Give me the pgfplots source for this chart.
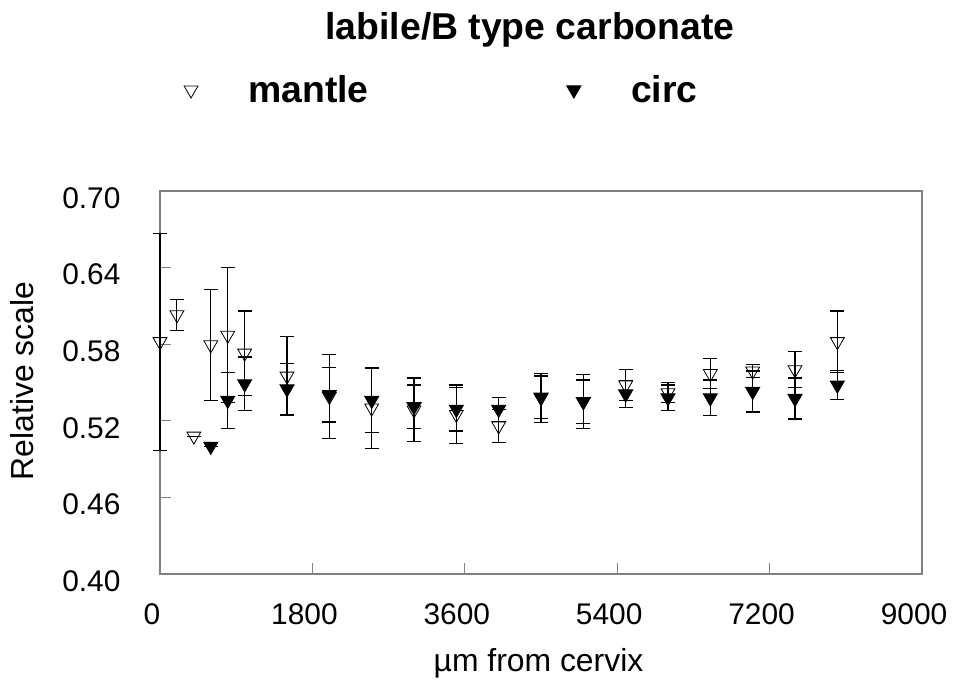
\documentclass[border=0pt]{standalone}
\usepackage{fontspec}
\setmainfont{Liberation Sans}
\usepackage{pgfplots}
\usepackage{pgfplotstable}
\pgfplotsset{compat=1.18}
\pgfplotstableread{
x y e
0 0.582 0.085
200 0.603 0.012
400 0.508 0.0
600 0.5795 0.0435
800 0.587 0.053
1000 0.573 0.033
1500 0.555 0.031
2000 0.539 0.033
2500 0.530 0.032
3000 0.5285 0.025
3500 0.525 0.023
4000 0.516 0.013
4500 0.538 0.019
5000 0.535 0.021
5500 0.548 0.012
6000 0.542 0.008
6500 0.557 0.012
7000 0.559 0.005
7500 0.560 0.014
8000 0.582 0.024
}\mantledata
\pgfplotstableread{
x y e
600 0.500 0.0
800 0.536 0.022
1000 0.549 0.021
1500 0.545 0.020
2000 0.5405 0.0215
2500 0.536 0.025
3000 0.531 0.017
3500 0.529 0.017
4000 0.529 0.0095
4500 0.5385 0.0165
5000 0.535 0.017
5500 0.541 0.0105
6000 0.538 0.010
6500 0.538 0.014
7000 0.543 0.016
7500 0.5375 0.016
8000 0.548 0.0115
}\circdata
\begin{document}
\begin{tikzpicture}[x=1bp,y=1bp]
\useasboundingbox (0,0) rectangle (953,686);
\begin{axis}[
  at={(160bp,112bp)}, anchor=south west,
  scale only axis, width=762bp, height=383bp,
  xmin=0, xmax=9000, ymin=0.40, ymax=0.70,
  xtick={0,1800,3600,5400,7200,9000},
  ytick={0.40,0.46,0.52,0.58,0.64,0.70},
  xtick pos=left, ytick pos=left,
  tick align=inside, major tick length=11bp,
  tick style={color=gray, line width=1bp},
  axis line style={color=gray, line width=1.3bp},
  font=\fontsize{30}{35}\selectfont,
  /pgf/number format/assume math mode=true,
  scaled ticks=false,
  yticklabel style={/pgf/number format/fixed, /pgf/number format/fixed zerofill, /pgf/number format/precision=2, yshift=-7bp, xshift=-36bp},
  xticklabel style={/pgf/number format/1000 sep={}, xshift=-8bp, yshift=-26bp},
  xlabel={µm from cervix}, ylabel={Relative scale},
  xlabel style={at={(axis description cs:0.4967,-0.2324)}, anchor=center, font=\fontsize{32}{38}\selectfont},
  ylabel style={at={(axis description cs:-0.1804,0.504)}, anchor=center, font=\fontsize{32}{38}\selectfont},
  title={labile/B type carbonate},
  title style={at={(axis description cs:0.4856,1.3812)}, anchor=base, font=\bfseries\fontsize{37.5}{44}\selectfont},
  legend columns=2,
  legend style={at={(axis description cs:0.369,1.2637)}, anchor=center, draw=none, fill=none,
    font=\bfseries\fontsize{37.5}{44}\selectfont,
    /tikz/every even column/.append style={column sep=195bp}},
  legend image code/.code={\path (-8bp,0bp) (55bp,0bp); \draw[#1] plot coordinates {(0bp,0bp)};},
  clip=false,
]
\addplot[only marks, mark=triangle, mark options={rotate=180, black, line width=0.8bp}, mark size=8bp,
  error bars/.cd, y dir=both, y explicit,
  error bar style={black, line width=1.1bp},
  error mark options={rotate=90, black, line width=1.1bp, mark size=7bp}]
  table[x=x, y=y, y error=e] {\mantledata};
\addlegendentry{mantle}
\addplot[only marks, mark=triangle*, mark options={rotate=180, black, fill=black, line width=1bp}, mark size=8bp,
  error bars/.cd, y dir=both, y explicit,
  error bar style={black, line width=1.3bp},
  error mark options={rotate=90, black, line width=1.3bp, mark size=7bp}]
  table[x=x, y=y, y error=e] {\circdata};
\addlegendentry{circ}
\end{axis}
\end{tikzpicture}
\end{document}
